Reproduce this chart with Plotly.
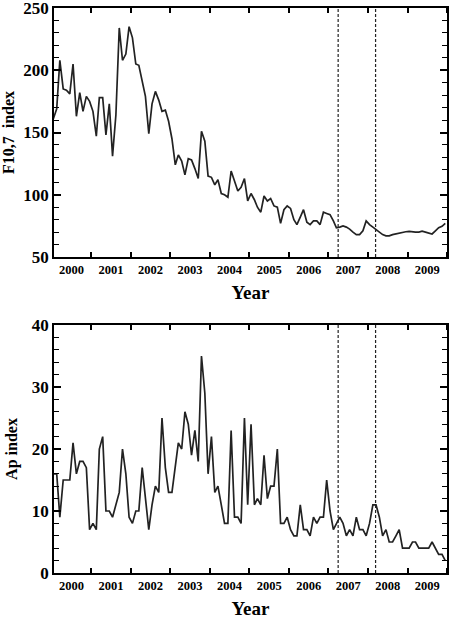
import plotly.graph_objects as go
from plotly.subplots import make_subplots

# Monthly values, Jan 2000 .. Dec 2009
months = [f"{2000 + i // 12}-{i % 12 + 1:02d}-16" for i in range(120)]

f107 = [161, 169, 208, 185, 184, 181, 205, 163, 182, 167, 179, 175,
        167, 147, 178, 178, 148, 173, 131, 164, 234, 208, 213, 235,
        226, 205, 204, 191, 179, 149, 173, 183, 176, 167, 168, 159,
        145, 124, 132, 127, 116, 129, 128, 121, 113, 151, 143, 115,
        114, 108, 112, 101, 100, 98, 119, 111, 103, 106, 113, 95,
        101, 96, 90, 86, 99, 95, 97, 91, 90, 77, 88, 91,
        89, 80, 76, 82, 88, 78, 76, 79, 79, 76, 86, 85,
        84, 79, 73.5, 74, 75, 74, 72.4, 70, 68, 68, 71, 79,
        76, 74, 72, 70, 68, 67, 67, 68, 68.7, 69, 69.7, 70.3,
        70.5, 70, 70, 70, 70.7, 70, 69, 68.5, 71, 73.5, 74.6, 77]

ap = [16, 16, 9, 15, 15, 15, 21, 16, 18, 18, 17, 7,
      8, 7, 20, 22, 10, 10, 9, 11, 13, 20, 16, 9,
      8, 10, 10, 17, 12, 7, 11, 14, 13, 25, 17, 13,
      13, 17, 21, 20, 26, 24, 19, 23, 18, 35, 29, 16,
      22, 13, 14, 11, 8, 8, 23, 9, 9, 8, 25, 11,
      24, 11, 12, 11, 19, 12, 14, 14, 20, 8, 8, 9,
      7, 6, 6, 11, 7, 7, 6, 9, 8, 9, 9, 15,
      10, 7, 8, 9, 8, 6, 7, 6, 9, 7, 7, 6,
      8, 11, 11, 9, 6, 7, 5, 5, 6, 7, 4, 4,
      4, 5, 5, 4, 4, 4, 4, 5, 4, 3, 3, 2]

event_dates = ["2007-04-01", "2008-03-12"]
x_range = ["2000-01-22", "2010-01-01"]
f107_range = [50, 250]
ap_range = [0, 40]

FONT = "Liberation Serif, Times New Roman, serif"
LINE = "#222222"

fig = make_subplots(rows=2, cols=1, vertical_spacing=0.12)
fig.add_trace(go.Scatter(x=months, y=f107, mode="lines",
                         line=dict(color=LINE, width=1.7)), row=1, col=1)
fig.add_trace(go.Scatter(x=months, y=ap, mode="lines",
                         line=dict(color=LINE, width=1.7)), row=2, col=1)

for r, yr in ((1, f107_range), (2, ap_range)):
    for d in event_dates:
        fig.add_shape(type="line", x0=d, x1=d, y0=yr[0], y1=yr[1],
                      line=dict(color="#222", width=1.2, dash="3px,2px"),
                      row=r, col=1)

common_x = dict(type="date", range=x_range, dtick="M12", tick0="2000-01-01",
                ticklabelmode="period", tickformat="%Y", automargin=False,
                ticklabeloverflow="allow",
                ticks="inside", ticklen=5, tickwidth=1.5, tickcolor="black",
                showline=True, linecolor="black", linewidth=1.7, mirror="ticks",
                showgrid=False, zeroline=False,
                tickfont=dict(family=FONT, size=12.5, color="black", weight="bold"),
                title=dict(text="Year", standoff=10,
                           font=dict(family=FONT, size=19, color="black", weight="bold")))
fig.update_xaxes(**common_x)

common_y = dict(ticks="inside", ticklen=7, tickwidth=1.5, tickcolor="black",
                showline=True, linecolor="black", linewidth=1.7, mirror="ticks",
                showgrid=False, zeroline=False, automargin=False,
                ticklabeloverflow="allow",
                tickfont=dict(family=FONT, size=17, color="black", weight="bold"))
fig.update_yaxes(**common_y)
fig.update_yaxes(range=f107_range, dtick=50, tick0=50,
                 minor=dict(dtick=10, tick0=50, ticks="inside", ticklen=5,
                            tickwidth=1.2, tickcolor="black"),
                 title=dict(text="F10,7&nbsp;&nbsp;index", standoff=6,
                            font=dict(family=FONT, size=16, color="black", weight="bold")),
                 row=1, col=1)
fig.update_yaxes(range=ap_range, dtick=10, tick0=0,
                 minor=dict(dtick=2, tick0=0, ticks="inside", ticklen=5,
                            tickwidth=1.2, tickcolor="black"),
                 title=dict(text="Ap index", standoff=10,
                            font=dict(family=FONT, size=16, color="black", weight="bold")),
                 row=2, col=1)

fig.update_layout(width=456, height=620, showlegend=False,
                  paper_bgcolor="white", plot_bgcolor="white",
                  margin=dict(l=54, r=9, t=8, b=47, autoexpand=False))
fig.update_layout(yaxis=dict(domain=[0.5593, 1.0]),
                  yaxis2=dict(domain=[0.0, 0.4389]))

fig.write_html("out.html")
